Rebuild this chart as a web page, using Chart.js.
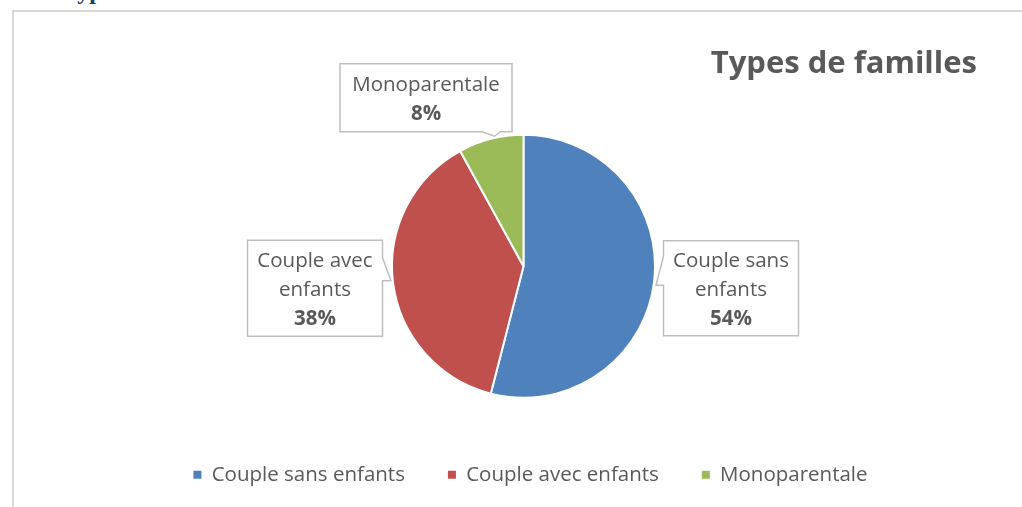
<!DOCTYPE html>
<html>
<head>
<meta charset="utf-8">
<script src="https://cdn.jsdelivr.net/npm/chart.js@4/dist/chart.umd.min.js"></script>
<style>
  html, body { margin: 0; padding: 0; background: #ffffff; width: 1022px; height: 507px; overflow: hidden; }
  #frame { position: absolute; left: 12px; top: 10px; width: 1010px; height: 497px;
           border-left: 2px solid #d9d9d9; border-top: 2px solid #d9d9d9; box-sizing: border-box; }
  #heading { position: absolute; left: 63px; top: -21px; margin: 0; font-family: "Liberation Serif", serif;
             font-weight: bold; font-size: 24px; line-height: 24px; color: #1f3864; white-space: nowrap; }
  #wrap { position: absolute; left: 0; top: 0; width: 1022px; height: 507px; }
</style>
</head>
<body>
<div id="heading">Types de familles</div>
<div id="frame"></div>
<div id="wrap"><canvas id="c" width="1022" height="507"></canvas></div>
<script>
// ---- data ----
const chartTitle = "Types de familles";
const categories = ["Couple sans enfants", "Couple avec enfants", "Monoparentale"];
const shares = [54, 38, 8];
const sliceColors = ["#4f81bd", "#c0504d", "#9bbb59"];

// ---- callout layout (relative to pie centre cx, cy and radius r) ----
const calloutLayout = [
  // Couple sans enfants : box to the right, pointer on left edge
  (cx, cy, r) => {
    const L = cx + r + 8.5, R = L + 135, T = cy - 25.5, B = cy + 69.5;
    return { L, R, T, B, pts: [[L, T], [R, T], [R, B], [L, B], [L, cy + 19], [cx + r + 1, cy + 19], [L, cy - 10]] };
  },
  // Couple avec enfants : box to the left, pointer on right edge
  (cx, cy, r) => {
    const R = cx - r - 9.5, L = R - 135, T = cy - 26, B = cy + 70;
    return { L, R, T, B, pts: [[L, T], [R, T], [R, cy - 8.5], [cx - r - 1, cy + 14.5], [R, cy + 14.5], [R, B], [L, B]] };
  },
  // Monoparentale : box above, pointer on bottom edge
  (cx, cy, r) => {
    const L = cx - 183.5, R = cx - 11.5, T = cy - 202.5, B = cy - r - 3;
    return { L, R, T, B, pts: [[L, T], [R, T], [R, B], [cx - 23, B], [cx - 29, cy - r + 1.5], [cx - 41.5, B], [L, B]] };
  }
];

const textColor = "#595959";
const fontFamily = "'Open Sans', 'Noto Sans', sans-serif";
Chart.defaults.font.family = fontFamily;
Chart.defaults.color = textColor;

function wrapText(ctx, text, maxW) {
  const words = text.split(" ");
  const lines = [];
  let cur = "";
  for (const w of words) {
    const t = cur ? cur + " " + w : w;
    if (cur && ctx.measureText(t).width > maxW) { lines.push(cur); cur = w; }
    else cur = t;
  }
  if (cur) lines.push(cur);
  return lines;
}

const calloutPlugin = {
  id: "callouts",
  afterDatasetsDraw(chart) {
    const ctx = chart.ctx;
    const arcs = chart.getDatasetMeta(0).data;
    const cx = arcs[0].x, cy = arcs[0].y, r = arcs[0].outerRadius;
    ctx.save();
    arcs.forEach((arc, i) => {
      const box = calloutLayout[i](cx, cy, r);
      ctx.beginPath();
      box.pts.forEach((p, k) => k ? ctx.lineTo(p[0], p[1]) : ctx.moveTo(p[0], p[1]));
      ctx.closePath();
      ctx.fillStyle = "#ffffff";
      ctx.fill();
      ctx.lineWidth = 1.5;
      ctx.strokeStyle = "#bfbfbf";
      ctx.stroke();

      ctx.font = "20.5px " + fontFamily;
      const lines = wrapText(ctx, categories[i], (box.R - box.L) - 12).map(t => ({ t, bold: false }));
      lines.push({ t: shares[i] + "%", bold: true });
      const lh = 29;
      const midX = (box.L + box.R) / 2;
      const midY = (box.T + box.B) / 2 + 2;
      const y0 = midY - (lines.length - 1) * lh / 2;
      ctx.fillStyle = textColor;
      ctx.textAlign = "center";
      ctx.textBaseline = "middle";
      lines.forEach((ln, k) => {
        ctx.font = (ln.bold ? "bold " : "") + "20.5px " + fontFamily;
        ctx.fillText(ln.t, midX, y0 + k * lh);
      });
    });
    // chart title
    ctx.font = "bold 31px " + fontFamily;
    ctx.textAlign = "right";
    ctx.textBaseline = "alphabetic";
    ctx.fillStyle = textColor;
    ctx.fillText(chartTitle, chart.width - 45, 73);
    ctx.restore();
  }
};

const legendShift = {
  id: "legendShift",
  afterLayout(chart) {
    if (chart.legend) { chart.legend.left += 7; chart.legend.right += 7; }
  }
};

new Chart(document.getElementById("c"), {
  type: "pie",
  data: {
    labels: categories,
    datasets: [{
      data: shares,
      backgroundColor: sliceColors,
      borderColor: "#ffffff",
      borderWidth: 2,
      radius: 131.5
    }]
  },
  options: {
    responsive: false,
    animation: false,
    layout: { padding: { left: 25, right: 0, top: 111, bottom: 12 } },
    plugins: {
      tooltip: { enabled: false },
      title: { display: false },
      legend: {
        position: "bottom",
        align: "center",
        maxHeight: 80,
        labels: {
          boxWidth: 8,
          boxHeight: 8,
          padding: 43,
          color: textColor,
          font: { size: 20.5, family: fontFamily },
          generateLabels(chart) {
            return Chart.controllers.pie.overrides.plugins.legend.labels.generateLabels(chart)
              .map(it => Object.assign(it, { lineWidth: 0, strokeStyle: it.fillStyle }));
          }
        }
      }
    }
  },
  plugins: [calloutPlugin, legendShift]
});
</script>
</body>
</html>
